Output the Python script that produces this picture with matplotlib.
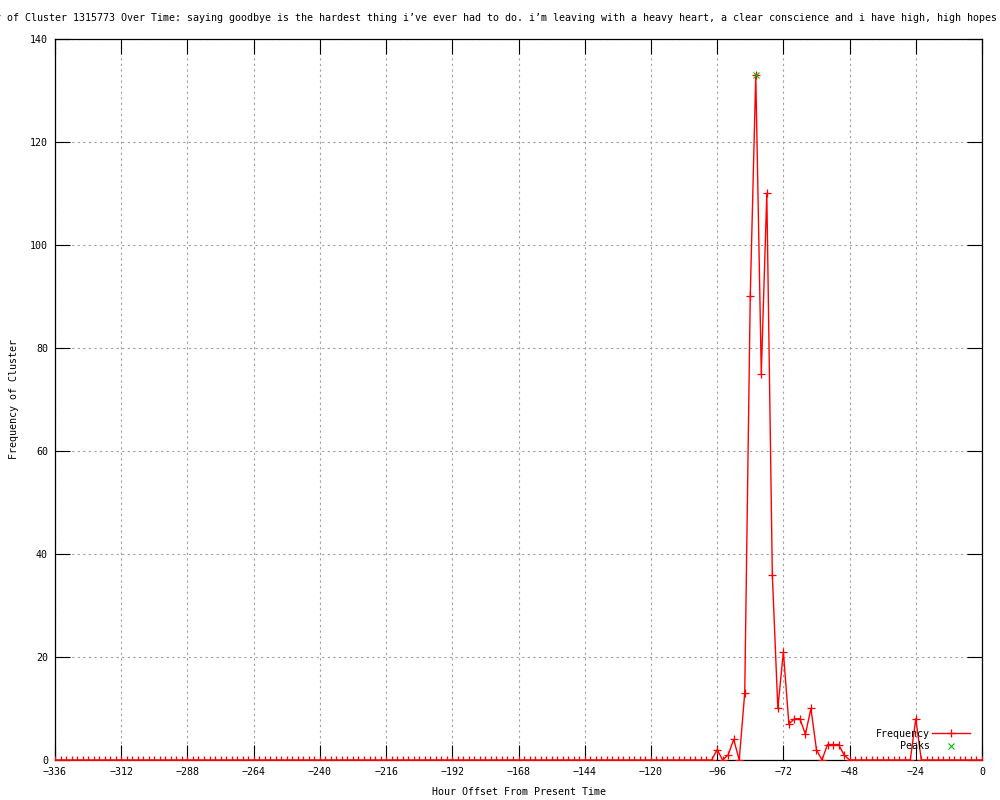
import matplotlib
matplotlib.use("Agg")
import matplotlib.pyplot as plt
import numpy as np

# hour offsets, every 2 hours from -336 to 0
hours = np.arange(-336, 1, 2)

# frequency of the cluster at each hour offset
frequency = [
    0, 0, 0, 0, 0, 0, 0, 0, 0, 0, 0, 0, 0, 0, 0, 0, 0, 0, 0, 0,   # -336 .. -298
    0, 0, 0, 0, 0, 0, 0, 0, 0, 0, 0, 0, 0, 0, 0, 0, 0, 0, 0, 0,   # -296 .. -258
    0, 0, 0, 0, 0, 0, 0, 0, 0, 0, 0, 0, 0, 0, 0, 0, 0, 0, 0, 0,   # -256 .. -218
    0, 0, 0, 0, 0, 0, 0, 0, 0, 0, 0, 0, 0, 0, 0, 0, 0, 0, 0, 0,   # -216 .. -178
    0, 0, 0, 0, 0, 0, 0, 0, 0, 0, 0, 0, 0, 0, 0, 0, 0, 0, 0, 0,   # -176 .. -138
    0, 0, 0, 0, 0, 0, 0, 0, 0, 0, 0, 0, 0, 0, 0, 0, 0, 0, 0, 0,   # -136 .. -98
    2, 0, 1, 4, 0, 13, 90, 133, 75, 110, 36, 10, 21, 7, 8, 8,      # -96 .. -66
    5, 10, 2, 0, 3, 3, 3, 1, 0,                                    # -64 .. -48
    0, 0, 0, 0, 0, 0, 0, 0, 0, 0, 0,                               # -46 .. -26
    8,                                                             # -24
    0, 0, 0, 0, 0, 0, 0, 0, 0, 0, 0, 0,                            # -22 .. 0
]

peak_hours = [-82]
peak_values = [133]

x_ticks = list(range(-336, 1, 24))
y_ticks = list(range(0, 141, 20))

title = ("Frequency of Cluster 1315773 Over Time: saying goodbye is the hardest thing "
         "i\u2019ve ever had to do. i\u2019m leaving with a heavy heart, a clear conscience "
         "and i have high, high hopes")

plt.rcParams["font.family"] = ["DejaVu Sans Mono"]
plt.rcParams["font.size"] = 7.2

fig = plt.figure(figsize=(10, 8), dpi=100)
ax = fig.add_axes([0.055, 0.05, 0.927, 0.9015])

ax.plot(hours, frequency, color="#ff0000", linewidth=1.0, marker="+",
        markersize=6, markeredgewidth=0.9, label="Frequency", zorder=3)
ax.plot(peak_hours, peak_values, linestyle="none", color="#00c000", marker="x",
        markersize=5, markeredgewidth=0.8, label="Peaks", zorder=4)

ax.set_xlim(-336, 0)
ax.set_ylim(0, 140)
ax.set_xticks(x_ticks)
ax.set_yticks(y_ticks)
ax.set_xticklabels([str(t).replace("-", "\u2212") for t in x_ticks])

ax.tick_params(direction="in", length=11, width=0.8, top=True, right=True,
               labeltop=False, labelright=False, pad=5, colors="black")
ax.grid(True, color="#a0a0a0", linestyle=(0, (2, 3)), linewidth=0.8)
ax.set_axisbelow(True)
for s in ax.spines.values():
    s.set_linewidth(0.9)

ax.set_xlabel("Hour Offset From Present Time", labelpad=7)
ax.set_ylabel("Frequency of Cluster")
ax.yaxis.set_label_coords(-0.039, 0.5)

ax.legend(loc="lower right", bbox_to_anchor=(0.987, 0.012), frameon=False,
          markerfirst=False, handlelength=3.8, handletextpad=0.2,
          labelspacing=0.25, borderpad=0, borderaxespad=0, numpoints=1)

# the title is wider than the figure, so its start runs off the left edge
fig.text(0.997, 1 - 18 / 800, title, ha="right", va="center")

plt.savefig("out.png", dpi=100)
plt.close()
